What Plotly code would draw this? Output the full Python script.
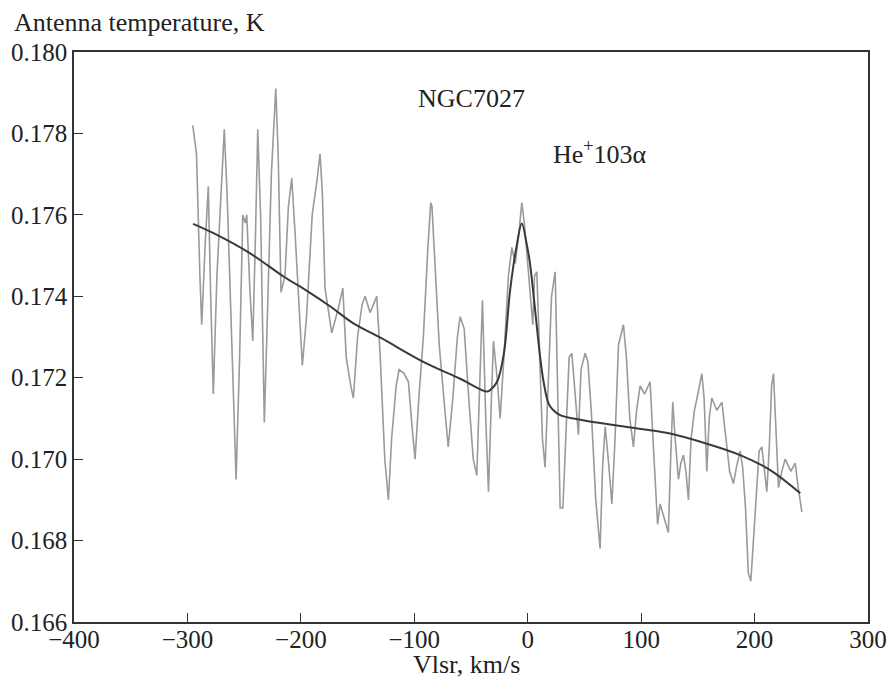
import plotly.graph_objects as go

# Observed spectrum (grey, noisy)
vel_obs = [-295.3, -292, -289, -287.4, -284.5, -281.6, -279.5, -277.2, -274, -270, -267.5, -265, -262, -259,
           -257.1, -254, -251.2, -249, -247.7, -245, -242.4, -240, -238, -235.5, -232.2, -229, -226, -222.1,
           -220, -217.5, -214, -211, -208, -205, -201, -198.7, -195, -190, -186, -183.1, -181, -178.7, -172.8,
           -167, -163, -160, -156, -153.7, -150, -146, -143.4, -139, -136, -133.1, -130, -126, -122.8, -120,
           -116, -113.4, -109, -105.2, -102, -99.3, -96, -92, -88, -85.5, -84.4, -82, -78, -73, -70.1, -66,
           -62, -59.6, -56, -52, -48, -44.9, -42, -39.9, -37, -34.6, -32, -30.2, -27, -24.3, -21, -17, -14,
           -11, -8, -5.2, -3, 0, 2.5, 4.5, 6, 8, 10, 13, 15.3, 18, 21, 24.2, 26, 28.6, 31, 34, 36.5, 38.9, 41,
           44.7, 47, 50.6, 53, 56, 60, 63.8, 66, 68.3, 71, 74.2, 77, 80, 84.4, 87, 90, 93.2, 96, 99.1, 103,
           107.9, 111, 114.5, 116.7, 120, 124, 126, 127.9, 130, 132.9, 135, 137.3, 139.5, 141.7, 144, 147, 150,
           153.5, 155.5, 157.9, 160, 162.3, 166.7, 171.2, 174, 178, 181.4, 184, 187.3, 189.5, 192, 194.5,
           196.7, 199, 202, 204, 206.4, 208.5, 210.8, 213, 215, 216.7, 218.5, 221.1, 224, 227, 232, 235.8,
           238.5, 241.7]
temp_obs = [0.1782, 0.1775, 0.1745, 0.1733, 0.1752, 0.1767, 0.1740, 0.1716, 0.1745, 0.1768, 0.1781, 0.1765,
            0.1740, 0.1715, 0.1695, 0.1725, 0.1760, 0.1758, 0.1760, 0.1742, 0.1729, 0.1755, 0.1781, 0.1760,
            0.1709, 0.1740, 0.1770, 0.1791, 0.1775, 0.1741, 0.1745, 0.1762, 0.1769, 0.1755, 0.1735, 0.1723,
            0.1735, 0.1760, 0.1768, 0.1775, 0.1765, 0.1742, 0.1731, 0.1737, 0.1742, 0.1725, 0.1718, 0.1715,
            0.1730, 0.1738, 0.1740, 0.1736, 0.1738, 0.1740, 0.1725, 0.1700, 0.1690, 0.1705, 0.1718, 0.1722,
            0.1721, 0.1719, 0.1708, 0.1700, 0.1715, 0.1730, 0.1752, 0.1763, 0.1762, 0.1750, 0.1728, 0.1712,
            0.1703, 0.1715, 0.1730, 0.1735, 0.1732, 0.1715, 0.1700, 0.1696, 0.1720, 0.1739, 0.1710, 0.1692,
            0.1715, 0.1729, 0.1720, 0.1710, 0.1725, 0.1745, 0.1752, 0.1748, 0.1755, 0.1763, 0.1758, 0.1748,
            0.1738, 0.1733, 0.1745, 0.1746, 0.1730, 0.1705, 0.1698, 0.1720, 0.1740, 0.1746, 0.1725, 0.1688,
            0.1688, 0.1710, 0.1725, 0.1726, 0.1718, 0.1706, 0.1722, 0.1726, 0.1724, 0.1712, 0.1690, 0.1678,
            0.1698, 0.1708, 0.1700, 0.1689, 0.1705, 0.1728, 0.1733, 0.1725, 0.1710, 0.1703, 0.1712, 0.1718,
            0.1716, 0.1719, 0.1702, 0.1684, 0.1689, 0.1686, 0.1682, 0.1700, 0.1714, 0.1705, 0.1695, 0.1699,
            0.1701, 0.1697, 0.1690, 0.1705, 0.1712, 0.1716, 0.1721, 0.1715, 0.1697, 0.1710, 0.1715, 0.1712,
            0.1714, 0.1707, 0.1697, 0.1694, 0.1698, 0.1702, 0.1698, 0.1688, 0.1672, 0.1670, 0.1680, 0.1695,
            0.1702, 0.1703, 0.1698, 0.1692, 0.1703, 0.1718, 0.1721, 0.1710, 0.1693, 0.1697, 0.1700, 0.1697,
            0.1699, 0.1693, 0.1687]

# Fitted model (dark line)
vel_fit = [-295, -277, -245, -215, -195, -174, -154, -129, -92, -60, -36, -33, -27, -21, -15.5, -10, -5.2,
           -1, 2, 6, 10.9, 14, 18.3, 22, 28.6, 50, 75.6, 100, 125.6, 157.9, 187.3, 213.8, 240.3]
temp_fit = [0.17578, 0.17555, 0.17506, 0.17448, 0.17414, 0.17375, 0.17334, 0.17297, 0.17239, 0.17198,
            0.17166, 0.1717, 0.1719, 0.1726, 0.17415, 0.1752, 0.17579, 0.1753, 0.17481, 0.1738, 0.17252,
            0.1719, 0.17137, 0.17122, 0.17108, 0.17095, 0.17084, 0.17074, 0.17063, 0.17038, 0.1701,
            0.16973, 0.16916]

x_ticks = [-400, -300, -200, -100, 0, 100, 200, 300]
x_ticktext = ["\u2212400", "\u2212300", "\u2212200", "\u2212100", "0", "100", "200", "300"]
y_ticks = [0.166, 0.168, 0.170, 0.172, 0.174, 0.176, 0.178, 0.180]
y_ticktext = ["0.166", "0.168", "0.170", "0.172", "0.174", "0.176", "0.178", "0.180"]

FONT = "Liberation Serif"
TICK_SIZE = 25
TEXT_SIZE = 26

fig = go.Figure()
fig.add_trace(go.Scatter(x=vel_obs, y=temp_obs, mode="lines",
                         line=dict(color="#9a9a9a", width=1.6), showlegend=False))
fig.add_trace(go.Scatter(x=vel_fit, y=temp_fit, mode="lines", line_shape="spline",
                         line=dict(color="#3a3a3a", width=2), showlegend=False))

fig.update_layout(
    width=889, height=680,
    margin=dict(l=74, r=21, t=52, b=58, autoexpand=False),
    paper_bgcolor="white", plot_bgcolor="white",
    font=dict(family=FONT, size=TEXT_SIZE, color="#222"),
    xaxis=dict(range=[-400, 300], tickvals=x_ticks, ticktext=x_ticktext,
               ticks="inside", ticklen=9, tickwidth=1.2, tickcolor="#333",
               showline=True, linecolor="#333", linewidth=1.5, mirror=True,
               showgrid=False, zeroline=False, automargin=False,
               ticklabelstandoff=-6,
               tickfont=dict(family=FONT, size=TICK_SIZE)),
    yaxis=dict(range=[0.166, 0.180], tickvals=y_ticks, ticktext=y_ticktext,
               ticks="inside", ticklen=9, tickwidth=1.2, tickcolor="#333",
               showline=True, linecolor="#333", linewidth=1.5, mirror=True,
               showgrid=False, zeroline=False, automargin=False,
               tickfont=dict(family=FONT, size=TICK_SIZE)),
    annotations=[
        dict(text="Antenna temperature, K", xref="paper", yref="paper", x=-0.078, y=1.0,
             xanchor="left", yanchor="middle", yshift=30, showarrow=False,
             font=dict(family=FONT, size=TEXT_SIZE)),
        dict(text="Vlsr, km/s", xref="paper", yref="paper", x=0.494, y=0, yshift=-42,
             xanchor="center", yanchor="middle", showarrow=False,
             font=dict(family=FONT, size=TEXT_SIZE)),
        dict(text="NGC7027", xref="x", yref="y", x=-50, y=0.17885, xanchor="center",
             yanchor="middle", showarrow=False, font=dict(family=FONT, size=TEXT_SIZE)),
        dict(text="He<sup>+</sup>103\u03b1", xref="x", yref="y", x=64, y=0.17752,
             xanchor="center", yanchor="middle", showarrow=False,
             font=dict(family=FONT, size=TEXT_SIZE)),
    ],
)

fig.write_html("out.html", config={"displayModeBar": False},
               post_script="document.body.style.margin='0';document.body.style.padding='0';")
